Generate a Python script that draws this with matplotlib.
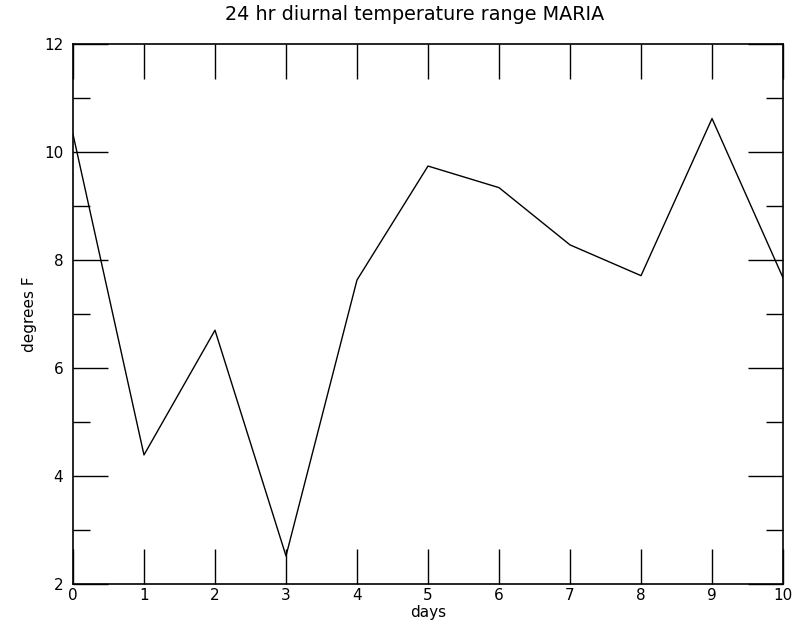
import matplotlib
matplotlib.use("Agg")
import matplotlib.pyplot as plt
from matplotlib.ticker import MultipleLocator

days = [0, 1, 2, 3, 4, 5, 6, 7, 8, 9, 10]
temp_range = [10.33, 4.39, 6.70, 2.52, 7.63, 9.74, 9.34, 8.28, 7.71, 10.62, 7.67]
x_ticks = [0, 1, 2, 3, 4, 5, 6, 7, 8, 9, 10]
y_ticks = [2, 4, 6, 8, 10, 12]

fig = plt.figure(figsize=(8.1, 6.26), dpi=100)
ax = fig.add_axes([0.0901, 0.0671, 0.8766, 0.8626])
ax.plot(days, temp_range, color="black", linewidth=1.0)
ax.set_xlim(0, 10)
ax.set_ylim(2, 12)
ax.set_xticks(x_ticks)
ax.set_yticks(y_ticks)
ax.yaxis.set_minor_locator(MultipleLocator(1))
ax.tick_params(axis="both", which="major", direction="in", length=25, width=1.0,
               top=True, right=True, labelsize=11)
ax.tick_params(axis="y", which="minor", direction="in", length=12, width=1.0,
               left=True, right=True)
ax.tick_params(axis="x", which="major", pad=3)
ax.tick_params(axis="y", which="major", pad=7)
for s in ax.spines.values():
    s.set_linewidth(1.2)
fig.text(415 / 810, 1 - 14 / 626, "24 hr diurnal temperature range MARIA",
         fontsize=13.8, ha="center", va="center")
ax.set_xlabel("days", fontsize=11, labelpad=1)
ax.set_ylabel("degrees F", fontsize=11, labelpad=5)
fig.savefig("out.png", dpi=100)
